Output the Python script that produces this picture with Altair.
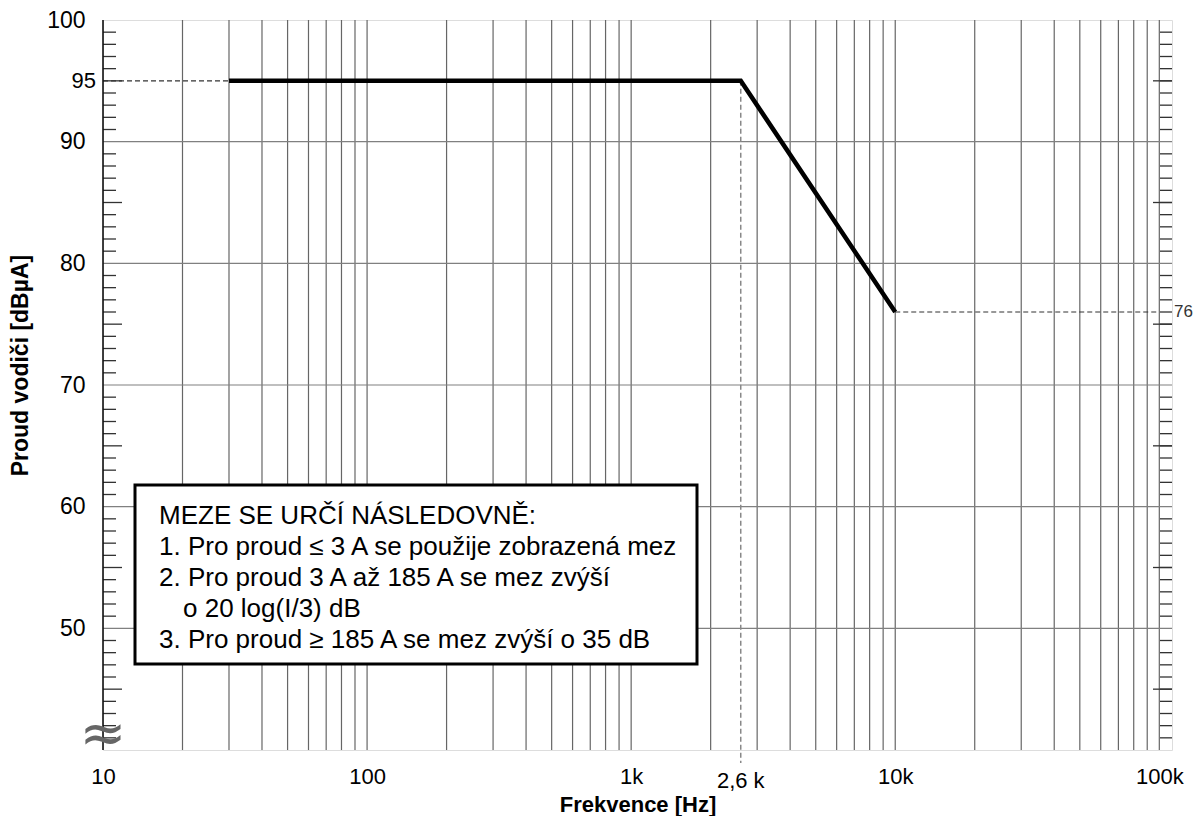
import altair as alt
import pandas as pd

# ---------------- data ----------------
limit_freq = [30, 2600, 10000]          # Hz
limit_level = [95, 95, 76]              # dBµA
corner_freq = 2600
corner_label = "2,6 k"
end_level = 76
start_level = 95

x_tick_values = [10, 100, 1000, 10000, 100000]
y_tick_values = [50, 60, 70, 80, 90, 100]
grid_y = [50, 60, 70, 80, 90]
grid_freqs = [m * d for d in [10, 100, 1000, 10000] for m in range(2, 10)] + \
             [100, 1000, 10000, 100000]
minor_short = [v for v in range(41, 100) if v % 5 != 0]
minor_long = [v for v in range(41, 100) if v % 5 == 0 and v % 10 != 0]

note_lines = [
    "MEZE SE URČÍ NÁSLEDOVNĚ:",
    "1. Pro proud ≤ 3 A se použije zobrazená mez",
    "2. Pro proud 3 A až 185 A se mez zvýší",
    "o 20 log(I/3) dB",
    "3. Pro proud ≥ 185 A se mez zvýší o 35 dB",
]
note_indent = [0, 0, 0, 1, 0]

# ---------------- layout ----------------
W, H = 1069, 730
FONT = "Liberation Sans, Arial, Helvetica, sans-serif"
x_scale = alt.Scale(type="log", domain=[10, 111700], nice=False)
y_scale = alt.Scale(domain=[40, 100], nice=False, zero=False)

x_axis = alt.Axis(
    values=x_tick_values,
    labelExpr="datum.value >= 1000 ? format(datum.value/1000, 'd') + 'k' : format(datum.value, 'd')",
    grid=False, ticks=False, domain=False, labelFlush=False,
    labelFont=FONT, labelFontSize=22, labelColor="#000", labelPadding=16,
    title="Frekvence [Hz]", titleFont=FONT, titleFontSize=22, titleFontWeight="bold",
    titleColor="#000", titlePadding=7,
)
y_axis = alt.Axis(
    values=y_tick_values, grid=False, ticks=False, domain=False,
    labelFont=FONT, labelFontSize=23, labelColor="#000", labelPadding=18,
    title="Proud vodiči [dBµA]", titleFont=FONT, titleFontSize=23,
    titleFontWeight="bold", titleColor="#000", titleAngle=270,
    titleX=-83, titleY=345, titleAlign="center", titleBaseline="middle",
)

X = lambda f: alt.X(f, type="quantitative", scale=x_scale, axis=x_axis)
Y = lambda f: alt.Y(f, type="quantitative", scale=y_scale, axis=y_axis)
one = pd.DataFrame({"k": [0]})

vgrid = alt.Chart(pd.DataFrame({"f": grid_freqs})).mark_rule(
    color="#666", strokeWidth=1.2
).encode(x=X("f"), y=alt.value(0), y2=alt.value(H))

hgrid = alt.Chart(pd.DataFrame({"v": grid_y})).mark_rule(
    color="#808080", strokeWidth=1.2
).encode(y=Y("v"), x=alt.value(0), x2=alt.value(W))

left_border = alt.Chart(one).mark_rule(color="#111", strokeWidth=1.6).encode(
    x=alt.value(0), y=alt.value(0), y2=alt.value(H))

tick_short_l = alt.Chart(pd.DataFrame({"v": minor_short})).mark_rule(
    color="#333", strokeWidth=1.3).encode(y=Y("v"), x=alt.value(0), x2=alt.value(13))
tick_long_l = alt.Chart(pd.DataFrame({"v": minor_long})).mark_rule(
    color="#333", strokeWidth=1.3).encode(y=Y("v"), x=alt.value(0), x2=alt.value(19))
tick_short_r = alt.Chart(pd.DataFrame({"v": minor_short + minor_long})).mark_rule(
    color="#333", strokeWidth=1.3).encode(y=Y("v"), x=alt.value(W - 12), x2=alt.value(W))
tick_long_r = alt.Chart(pd.DataFrame({"v": minor_long})).mark_rule(
    color="#333", strokeWidth=1.3).encode(y=Y("v"), x=alt.value(W - 19), x2=alt.value(W))

dash_95 = alt.Chart(one).mark_rule(color="#333", strokeWidth=1.2, strokeDash=[5, 3]).encode(
    x=alt.datum(10), x2=alt.datum(limit_freq[0]), y=alt.datum(start_level))
dash_76 = alt.Chart(one).mark_rule(color="#333", strokeWidth=1.2, strokeDash=[5, 3]).encode(
    x=alt.datum(limit_freq[-1]), x2=alt.datum(100000), y=alt.datum(end_level))
dash_v = alt.Chart(one).mark_rule(color="#888", strokeWidth=1.5, strokeDash=[5, 3]).encode(
    x=alt.datum(corner_freq), y=alt.datum(start_level), y2=alt.value(H + 13))

limit = alt.Chart(pd.DataFrame({"f": limit_freq, "v": limit_level})).mark_line(
    color="#000", strokeWidth=4.5, strokeJoin="miter"
).encode(x=X("f"), y=Y("v"))

box = alt.Chart(one).mark_rect(fill="white", stroke="#000", strokeWidth=3).encode(
    x=alt.value(32), x2=alt.value(594), y=alt.value(465), y2=alt.value(644))

note_layers = [
    alt.Chart(one).mark_text(
        align="left", baseline="alphabetic", font=FONT, fontSize=26, color="#000"
    ).encode(x=alt.value(56 + 24 * ind), y=alt.value(504 + 31 * i), text=alt.value(line))
    for i, (line, ind) in enumerate(zip(note_lines, note_indent))
]

lbl_95 = alt.Chart(one).mark_text(
    align="right", baseline="middle", font=FONT, fontSize=22, color="#000"
).encode(x=alt.value(-7), y=alt.datum(start_level), text=alt.value(str(start_level)))

lbl_76 = alt.Chart(one).mark_text(
    align="left", baseline="middle", font=FONT, fontSize=17, color="#333"
).encode(x=alt.value(W + 2), y=alt.datum(end_level), text=alt.value(str(end_level)))

lbl_corner = alt.Chart(one).mark_text(
    align="center", baseline="middle", font=FONT, fontSize=22, color="#000"
).encode(x=alt.datum(corner_freq), y=alt.value(H + 31), text=alt.value(corner_label))

squiggle = alt.Chart(one).mark_text(
    align="center", baseline="middle", font="DejaVu Sans", fontSize=56, color="#666"
).encode(x=alt.value(0), y=alt.value(H - 15), text=alt.value("≈"))

chart = alt.layer(
    vgrid, hgrid, tick_short_l, tick_long_l, tick_short_r, tick_long_r,
    dash_95, dash_76, dash_v, limit, box, *note_layers, left_border,
    lbl_95, lbl_76, lbl_corner, squiggle,
).properties(
    width=W, height=H,
    autosize=alt.AutoSizeParams(type="none"),
    padding={"left": 95, "top": 12, "right": 21, "bottom": 66},
).configure_view(stroke="#888", strokeWidth=1.5).configure(background="white")

chart.save("out.html", embed_options={"renderer": "svg", "actions": False})
